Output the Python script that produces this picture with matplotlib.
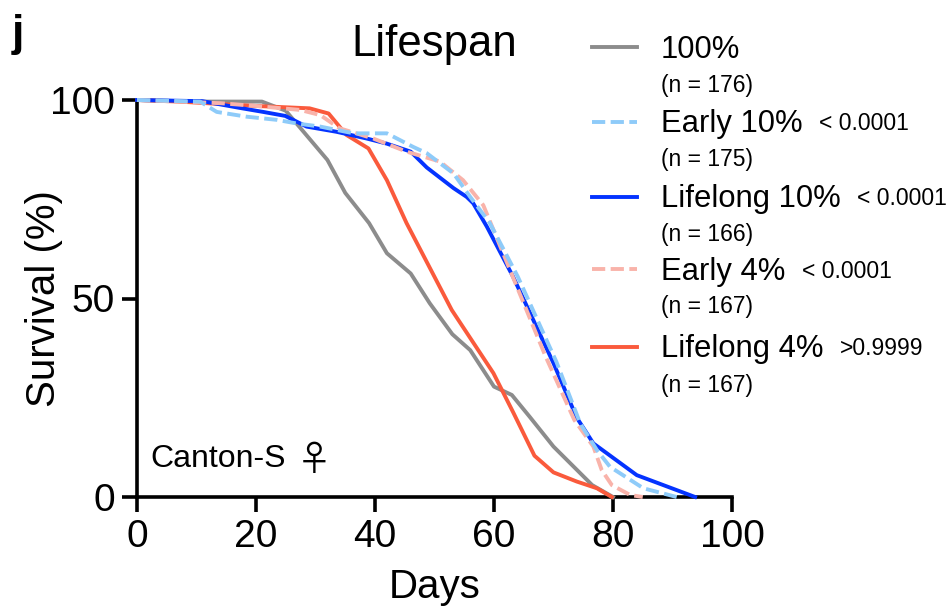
import matplotlib
matplotlib.use("Agg")
import matplotlib.pyplot as plt
from matplotlib.lines import Line2D

plt.rcParams['font.family'] = ['Liberation Sans', 'DejaVu Sans']

# ---- data ----
ctrl_days = [0, 10, 21, 25, 32, 35, 39, 42, 46, 49.2, 53, 56, 60, 63, 66, 70, 76.5, 80]
ctrl_surv = [100, 99.6, 99.6, 97.3, 84.9, 76.6, 69, 61.4, 56.3, 48.8, 41, 37, 27.8, 25.7, 20.2, 12.7, 3, 0]

e10_days = [0, 10.6, 13.4, 18.4, 23.5, 26.8, 30.8, 36.4, 42, 46.4, 48.7, 53.2, 56, 59.3, 64, 70.5, 74.5, 77.3, 79.5, 85.1, 90.7]
e10_surv = [100, 99.6, 97, 95.8, 95, 94.1, 93.3, 91.6, 91.6, 88.2, 86.6, 81.5, 75.6, 69, 55.5, 34, 18.5, 11.8, 7.6, 2.2, 0]

l10_days = [0, 11, 17.3, 21.2, 24.9, 28.5, 33.5, 38.6, 42, 46, 48.7, 53.2, 55.4, 56.5, 58.8, 63.2, 70, 73.9, 76.7, 84, 93.8]
l10_surv = [100, 99.7, 98, 97, 96, 93.3, 92, 90.3, 89, 87, 83, 77.8, 75.6, 74, 68.1, 55.5, 33.7, 20, 13.5, 5.5, 0]

e4_days = [0, 14, 20, 27.4, 30.8, 34, 39.7, 45.3, 50.9, 54.8, 58.2, 68.7, 73.5, 76.7, 78.1, 79.8, 82.9, 85]
e4_surv = [100, 99.2, 98.5, 97.5, 96.2, 92.9, 90.3, 87, 84.5, 79.8, 73.5, 35.3, 19.4, 12.7, 6.8, 3, 0.5, 0]

l4_days = [0, 7, 14, 20, 29, 32.2, 35.2, 38.9, 42, 45.3, 52.9, 59.9, 63.3, 66.8, 70, 73.9, 77.3, 79.8]
l4_surv = [100, 99.6, 99, 98.5, 97.9, 96.6, 91.2, 87.8, 79.8, 69, 47.1, 31.2, 21.1, 10.4, 6.2, 3.9, 2.2, 0]

labels = ["100%", "Early 10%", "Lifelong 10%", "Early 4%", "Lifelong 4%"]
n_labels = ["(n = 176)", "(n = 175)", "(n = 166)", "(n = 167)", "(n = 167)"]
p_labels = ["", "< 0.0001", "< 0.0001", "< 0.0001", ">0.9999"]
colors = ["#8c8c8c", "#8ecbf9", "#0433ff", "#f9b3aa", "#fa5a3c"]
styles = ["solid", "dashed", "solid", "dashed", "solid"]
x_ticks = [0, 20, 40, 60, 80, 100]
y_ticks = [0, 50, 100]

series = [(ctrl_days, ctrl_surv), (e10_days, e10_surv), (l10_days, l10_surv),
          (e4_days, e4_surv), (l4_days, l4_surv)]

LW = 2.8
DASH = (3.4, 1.4)

fig = plt.figure(figsize=(9.53, 6.10), dpi=100)
ax = fig.add_axes([137/953, 1 - 497/610, (732 - 137)/953, (497 - 100)/610])

order = [0, 4, 2, 3, 1]
for i in order:
    d, s = series[i]
    kw = dict(color=colors[i], lw=LW, clip_on=False, solid_joinstyle='round')
    if styles[i] == "dashed":
        kw['dashes'] = DASH
    ax.plot(d, s, zorder=3 + (1 if i == 1 else 0), **kw)

ax.set_xlim(0, 100)
ax.set_ylim(0, 100)
ax.set_xticks(x_ticks)
ax.set_yticks(y_ticks)
for sp in ['top', 'right']:
    ax.spines[sp].set_visible(False)
for sp in ['left', 'bottom']:
    ax.spines[sp].set_linewidth(2.6)
ax.tick_params(axis='both', length=11, width=2.6, labelsize=28, pad=5)
ax.set_xlabel("Days", fontsize=29, labelpad=9)
ax.set_ylabel("Survival (%)", fontsize=29)
ax.yaxis.set_label_coords(-0.125, 0.5)
ax.set_title("Lifespan", fontsize=31.5, pad=32)

ax.text(2.2, 7.6, "Canton-S", fontsize=23, ha='left', va='baseline')
ax.text(26.9, 6.8, "♀", fontsize=25, ha='left', va='baseline',
        family=['Noto Sans CJK JP', 'DejaVu Sans'])

fig.text(12/953, 1 - 46/610, "j", fontsize=32, fontweight='bold', ha='left', va='baseline')

# ---- legend ----
line_y = [47.3, 121.7, 196.7, 269.3, 346.7]
lab_base = [58.3, 131.7, 206.7, 280, 356.7]
n_base = [91.7, 166, 240.7, 313, 391.7]
for i in range(5):
    yl = 1 - line_y[i]/610
    kw = dict(color=colors[i], lw=LW, transform=fig.transFigure)
    if styles[i] == "dashed":
        kw['dashes'] = DASH
    fig.add_artist(Line2D([592/953, 637/953], [yl, yl], **kw))
    t = fig.text(661/953, 1 - lab_base[i]/610, labels[i], fontsize=22.3, va='baseline', ha='left')
    fig.text(661/953, 1 - n_base[i]/610, n_labels[i], fontsize=16.5, va='baseline', ha='left')
    if p_labels[i]:
        ax.annotate(p_labels[i], xy=(1, 0), xycoords=t, xytext=(12, 3),
                    textcoords='offset points', fontsize=16.5, ha='left', va='bottom',
                    annotation_clip=False)

fig.savefig("out.png", dpi=100)
